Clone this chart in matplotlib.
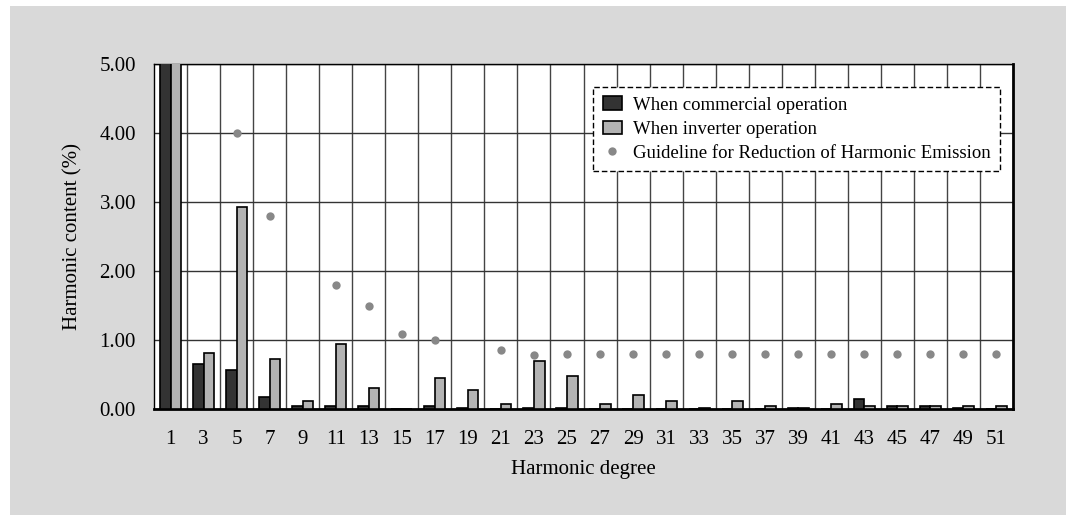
import numpy as np
import matplotlib
matplotlib.use("Agg")
import matplotlib.pyplot as plt
from matplotlib.patches import Rectangle, Patch
from matplotlib.lines import Line2D

plt.rcParams['font.family'] = ['Liberation Serif', 'DejaVu Serif']

degrees = [1, 3, 5, 7, 9, 11, 13, 15, 17, 19, 21, 23, 25, 27, 29, 31, 33, 35, 37, 39, 41, 43, 45, 47, 49, 51]
commercial = [100.0, 0.65, 0.56, 0.17, 0.05, 0.05, 0.05, 0.0, 0.05, 0.02, 0.0, 0.02, 0.02, 0.0, 0.0, 0.0, 0.0, 0.0, 0.0, 0.01, 0.0, 0.15, 0.04, 0.04, 0.01, 0.0]
inverter = [100.0, 0.81, 2.93, 0.73, 0.11, 0.94, 0.30, 0.0, 0.45, 0.28, 0.07, 0.70, 0.48, 0.07, 0.20, 0.12, 0.01, 0.12, 0.04, 0.01, 0.07, 0.04, 0.04, 0.04, 0.04, 0.04]
guideline = [np.nan, np.nan, 4.00, 2.80, np.nan, 1.80, 1.50, 1.08, 1.00, np.nan, 0.85, 0.78, 0.80, 0.80, 0.80, 0.80, 0.80, 0.80, 0.80, 0.80, 0.80, 0.80, 0.80, 0.80, 0.80, 0.80]
yticks = [0, 1, 2, 3, 4, 5]
ytick_labels = ["0.00", "1.00", "2.00", "3.00", "4.00", "5.00"]

W, H = 1066, 515
fig = plt.figure(figsize=(W / 100, H / 100), dpi=100, facecolor='white')
fig.patches.append(Rectangle((10 / W, 0), 1 - 10 / W, 1 - 6 / H, transform=fig.transFigure,
                             facecolor='#d9d9d9', edgecolor='none', zorder=-10))

ax = fig.add_axes([154 / W, 1 - 409 / H, (1013 - 154) / W, (409 - 64) / H])
ax.set_facecolor('white')

x = np.arange(len(degrees))
bw = 0.32
dark = '#333333'
light = '#b3b3b3'
dotc = '#888888'

ax.bar(x - bw / 2, commercial, width=bw, color=dark, edgecolor='black', linewidth=1.2, zorder=3)
ax.bar(x + bw / 2, inverter, width=bw, color=light, edgecolor='black', linewidth=1.2, zorder=3)
ax.scatter(x, guideline, s=36, color=dotc, zorder=4, linewidths=0)

ax.set_xlim(-0.5, len(degrees) - 0.5)
ax.set_ylim(0, 5)
ax.set_xticks(x)
ax.set_xticklabels([str(d) for d in degrees], fontsize=15)
ax.set_xticks(np.arange(0.5, len(degrees) - 0.5, 1), minor=True)
ax.set_yticks(yticks)
ax.set_yticklabels(ytick_labels, fontsize=15)
ax.tick_params(axis='x', which='both', length=0, pad=15)
ax.tick_params(axis='y', which='both', length=0, pad=13)
ax.grid(True, axis='x', which='minor', color='#444444', linewidth=1.0, zorder=1)
ax.grid(True, axis='y', which='major', color='#333333', linewidth=1.0, zorder=1)
ax.grid(False, axis='x', which='major')
ax.set_axisbelow(True)

for s in ['left', 'top']:
    ax.spines[s].set_linewidth(1.0)
for s in ['right', 'bottom']:
    ax.spines[s].set_linewidth(2.0)

ax.set_xlabel('Harmonic degree', fontsize=15, labelpad=8)
ax.set_ylabel('Harmonic content (%)', fontsize=15, labelpad=12)

handles = [
    Patch(facecolor=dark, edgecolor='black', linewidth=1.2, label='When commercial operation'),
    Patch(facecolor=light, edgecolor='black', linewidth=1.2, label='When inverter operation'),
    Line2D([], [], linestyle='none', marker='o', markersize=6, color=dotc, markeredgewidth=0,
           label='Guideline for Reduction of Harmonic Emission'),
]
leg = ax.legend(handles=handles, loc='upper right', bbox_to_anchor=((1000 - 154) / 859, 1 - (87 - 64) / 345),
                fontsize=13.5, frameon=True, fancybox=False, framealpha=1, edgecolor='black',
                handlelength=1.0, handleheight=0.7, handletextpad=0.6, labelspacing=0.38,
                borderpad=0.5, borderaxespad=0)
leg.get_frame().set_linestyle((0, (4, 2)))
leg.get_frame().set_linewidth(1.0)
leg.set_zorder(5)

fig.savefig('out.png', dpi=100, facecolor=fig.get_facecolor())
